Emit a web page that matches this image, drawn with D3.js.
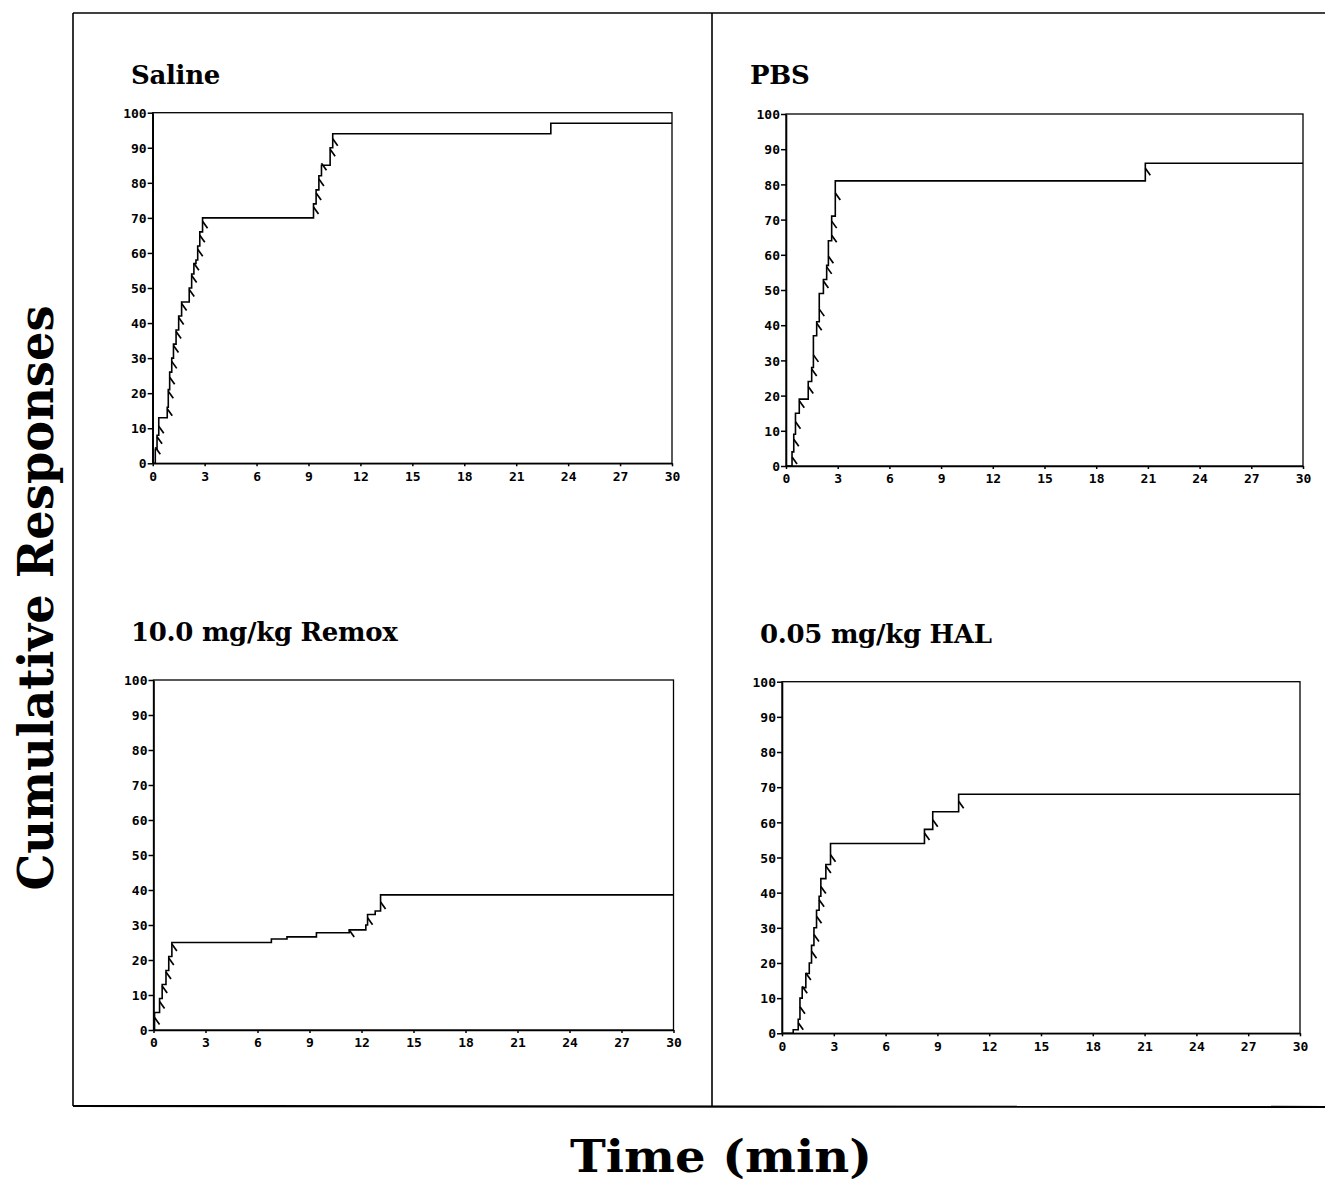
<!DOCTYPE html>
<html>
<head>
<meta charset="utf-8">
<script src="https://cdn.jsdelivr.net/npm/d3@7"></script>
<style>
  body { margin: 0; background: #fff; }
  svg { display: block; }
  .tick text { font-family: "DejaVu Sans Mono", monospace; font-weight: bold; font-size: 13px; }
  .title { font-family: "DejaVu Serif", serif; font-weight: bold; }
</style>
</head>
<body>
<div id="chart"></div>
<script>
// cumulative records: [minute, cumulative count] -- count becomes value at that time
const salineRecord = [[0,0],[0.15,4],[0.25,8],[0.35,13],[0.84,16],[0.9,21],[0.98,26],[1.1,30],[1.2,34],[1.35,38],[1.5,42],[1.67,46],[2.11,50],[2.25,54],[2.38,57],[2.5,58],[2.6,62],[2.72,66],[2.88,70],[9.29,74],[9.44,78],[9.6,82],[9.75,85],[10.25,90],[10.4,94],[23.0,97],[30,97]];
const pbsRecord = [[0,0],[0.35,4],[0.45,9],[0.55,15],[0.77,19],[1.29,24],[1.49,28],[1.59,37],[1.78,41],[1.93,49],[2.17,53],[2.36,57],[2.46,64],[2.65,71],[2.86,81],[20.85,86],[30,86]];
const remoxRecord = [[0,0],[0.06,5],[0.35,9],[0.5,13],[0.72,17],[0.88,21],[1.06,25],[6.8,26],[7.7,26.6],[9.4,27.8],[11.29,28.6],[12.25,30],[12.35,33],[12.79,34],[13.1,38.6],[30,38.6]];
const halRecord = [[0,0],[0.65,1],[0.94,4],[1.04,10],[1.17,13],[1.38,17],[1.58,20],[1.71,25],[1.85,30],[2.0,35],[2.15,39],[2.25,44],[2.54,48],[2.81,54],[8.25,58],[8.73,63],[10.23,68],[30,68]];

// cumulative counts at which a pip (reinforcement mark) sits on the record
const salinePips = [4,7,10,15,20,24,28.5,33,37,41,45,49,53,56.5,60.5,64.5,68.5,72.5,76.5,80.5,85,89,92];
const pbsPips = [2,7,12,18,22,27,31,40,44,52,56,59,65,69,77,84];
const remoxPips = [3,7.6,12,16,20,24,28,31.5,36];
const halPips = [2.4,7,12.8,16.6,22.8,27.5,32.7,37.4,41.2,47,50.2,56.4,60.2,65.4];

const panelNames = ["Saline", "PBS", "10.0 mg/kg Remox", "0.05 mg/kg HAL"];
const xTicks = [0,3,6,9,12,15,18,21,24,27,30];
const yTicks = [0,10,20,30,40,50,60,70,80,90,100];

const width = 1325, height = 1184;

const panels = [
    { name: panelNames[0], rec: salineRecord, pips: salinePips, box: [152.7, 672, 463.3, 112.7], title: [131, 84] },
    { name: panelNames[1], rec: pbsRecord, pips: pbsPips, box: [786, 1303, 466, 114], title: [750, 84] },
    { name: panelNames[2], rec: remoxRecord, pips: remoxPips, box: [153.5, 673.5, 1030, 680], title: [131, 641] },
    { name: panelNames[3], rec: halRecord, pips: halPips, box: [782, 1300, 1033.3, 681.7], title: [760, 643] }
];

const svg = d3.select('#chart').append('svg')
    .attr('width', width)
    .attr('height', height);

// outer frame
const frame = svg.append('g').attr('stroke', '#000').attr('stroke-width', 1.6);
frame.append('line').attr('x1', 73).attr('y1', 13).attr('x2', width).attr('y2', 13);
frame.append('line').attr('x1', 73).attr('y1', 13).attr('x2', 73).attr('y2', 1106);
frame.append('line').attr('x1', 712).attr('y1', 13).attr('x2', 712).attr('y2', 1107);
frame.append('line').attr('x1', 73).attr('y1', 1106).attr('x2', width).attr('y2', 1107).attr('stroke-width', 2.2);

panels.forEach(p => {
    const [xl, xr, yb, yt] = p.box;
    const x = d3.scaleLinear().domain([0, 30]).range([xl, xr]);
    const y = d3.scaleLinear().domain([0, 100]).range([yb, yt]);
    const g = svg.append('g');

    g.append('text')
        .attr('class', 'title')
        .attr('x', p.title[0]).attr('y', p.title[1])
        .attr('font-size', 26)
        .attr('letter-spacing', -0.3)
        .text(p.name);

    // box around the plot
    g.append('rect')
        .attr('x', xl).attr('y', yt)
        .attr('width', xr - xl).attr('height', yb - yt)
        .attr('fill', 'none').attr('stroke', '#000').attr('stroke-width', 1.3);

    const xAxis = g.append('g')
        .attr('transform', `translate(0,${yb})`)
        .call(d3.axisBottom(x).tickValues(xTicks).tickSize(3).tickSizeOuter(0).tickPadding(5));
    const yAxis = g.append('g')
        .attr('transform', `translate(${xl},0)`)
        .call(d3.axisLeft(y).tickValues(yTicks).tickSize(5).tickSizeOuter(0).tickPadding(1));
    [xAxis, yAxis].forEach(a => {
        a.select('.domain').attr('stroke-width', 1.6);
        a.selectAll('.tick line').attr('stroke-width', 1.5);
        a.selectAll('.tick text').attr('fill', '#000');
    });
    yAxis.selectAll('.tick text').attr('dy', '0.36em');

    const line = d3.line()
        .x(d => x(d[0]))
        .y(d => y(d[1]))
        .curve(d3.curveStepAfter);

    g.append('path')
        .datum(p.rec)
        .attr('fill', 'none')
        .attr('stroke', '#000')
        .attr('stroke-width', 1.6)
        .attr('d', line);

    // pips sit on the vertical jump that passes through their count
    const pipAt = v => {
        const ev = p.rec.find(d => d[1] >= v);
        return [x(ev[0]), y(v)];
    };
    g.selectAll('path.pip')
        .data(p.pips)
        .join('path')
        .attr('class', 'pip')
        .attr('fill', 'none')
        .attr('stroke', '#000')
        .attr('stroke-width', 1.7)
        .attr('d', v => {
            const [px, py] = pipAt(v);
            return `M${px},${py - 2}L${px + 5},${py + 5}`;
        });
});

svg.append('text')
    .attr('class', 'title')
    .attr('transform', 'translate(53,598) rotate(-90)')
    .attr('text-anchor', 'middle')
    .attr('font-size', 48)
    .attr('textLength', 585)
    .attr('lengthAdjust', 'spacingAndGlyphs')
    .text('Cumulative Responses');

svg.append('text')
    .attr('class', 'title')
    .attr('x', 721).attr('y', 1172)
    .attr('text-anchor', 'middle')
    .attr('font-size', 44)
    .attr('textLength', 302)
    .attr('lengthAdjust', 'spacingAndGlyphs')
    .text('Time (min)');
</script>
</body>
</html>
